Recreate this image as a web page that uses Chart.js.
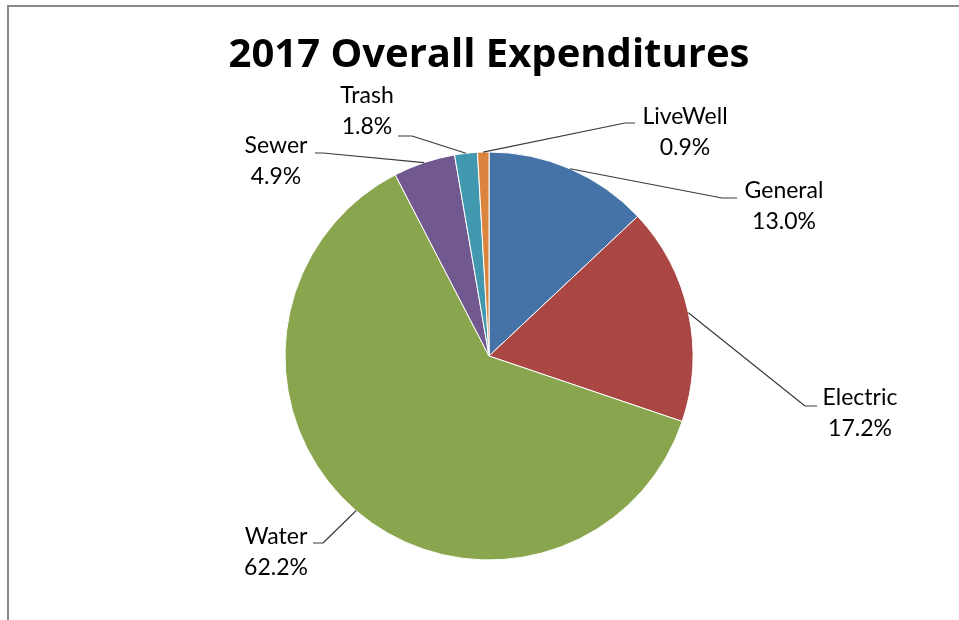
<!DOCTYPE html>
<html>
<head>
<meta charset="utf-8">
<title>2017 Overall Expenditures</title>
<script src="https://cdn.jsdelivr.net/npm/chart.js@4/dist/chart.umd.min.js"></script>
<style>
    html, body {
        margin: 0;
        padding: 0;
        background: #fff;
    }
    .wrap {
        position: relative;
        width: 959px;
        height: 620px;
        overflow: hidden;
    }
    .frame {
        position: absolute;
        left: 7px;
        top: 5px;
        width: 960px;
        height: 620px;
        border-top: 2px solid #8a8a8a;
        border-left: 2px solid #8a8a8a;
        pointer-events: none;
    }
</style>
</head>
<body>
<div class="wrap">
    <canvas id="expenseChart"></canvas>
    <div class="frame"></div>
</div>
<script>
const categories = ["General", "Electric", "Water", "Sewer", "Trash", "LiveWell"];
const shares = [13.0, 17.2, 62.2, 4.9, 1.8, 0.9];
const sliceColors = ["#4572A7", "#AA4643", "#89A54E", "#71588F", "#4198AF", "#DB843D"];

// where each callout sits, in px from the pie centre:
// text = centre of the first line, bar = short horizontal tick [x1, x2, y]
const calloutSpots = {
    General:  { text: [295, -165], bar: [233, 248, -158], side: "right" },
    Electric: { text: [371, 42],   bar: [316, 328, 50],   side: "right" },
    Water:    { text: [-213, 181], bar: [-176, -166, 187], side: "left" },
    Sewer:    { text: [-213, -210], bar: [-174, -166, -203], side: "left" },
    Trash:    { text: [-122, -260], bar: [-91, -77, -220], side: "left" },
    LiveWell: { text: [196, -239], bar: [136, 146, -233], side: "right" },
};

const LABEL_FONT = "Lato, 'Liberation Sans', sans-serif";
const TITLE_FONT = "'Open Sans', 'DejaVu Sans', sans-serif";

const callouts = {
    id: "callouts",
    afterDatasetsDraw(chart) {
        const { ctx } = chart;
        const meta = chart.getDatasetMeta(0);
        const total = shares.reduce((a, b) => a + b, 0);

        ctx.save();
        meta.data.forEach((arc, i) => {
            const spot = calloutSpots[categories[i]];
            const { x, y, startAngle, endAngle, outerRadius } = arc.getProps(
                ["x", "y", "startAngle", "endAngle", "outerRadius"],
                true,
            );
            const mid = (startAngle + endAngle) / 2;
            const ax = x + Math.cos(mid) * outerRadius;
            const ay = y + Math.sin(mid) * outerRadius;

            const [b1, b2, by] = spot.bar;
            const joinX = spot.side === "right" ? x + b1 : x + b2;

            ctx.strokeStyle = "#3a3a3a";
            ctx.lineWidth = 1.2;
            ctx.beginPath();
            ctx.moveTo(ax, ay);
            ctx.lineTo(joinX, y + by);
            ctx.moveTo(x + b1, y + by);
            ctx.lineTo(x + b2, y + by);
            ctx.stroke();

            const pct = ((shares[i] / total) * 100).toFixed(1) + "%";
            ctx.fillStyle = "#000";
            ctx.font = `23px ${LABEL_FONT}`;
            ctx.textAlign = "center";
            ctx.textBaseline = "middle";
            ctx.fillText(categories[i], x + spot.text[0], y + spot.text[1]);
            ctx.fillText(pct, x + spot.text[0], y + spot.text[1] + 31);
        });
        ctx.restore();
    },
};

new Chart(document.getElementById("expenseChart"), {
    type: "pie",
    data: {
        labels: categories,
        datasets: [
            {
                data: shares,
                backgroundColor: sliceColors,
                borderColor: "#ffffff",
                borderWidth: 1,
                radius: 204,
            },
        ],
    },
    options: {
        responsive: true,
        maintainAspectRatio: false,
        animation: false,
        layout: {
            padding: { left: 19, right: 0, top: 0, bottom: 60 },
        },
        plugins: {
            legend: { display: false },
            tooltip: { enabled: false },
            title: {
                display: true,
                text: "2017 Overall Expenditures",
                color: "#000",
                font: { family: TITLE_FONT, size: 40, weight: "bold", lineHeight: 1.2 },
                padding: { top: 32, bottom: 72 },
            },
        },
    },
    plugins: [callouts],
});
</script>
</body>
</html>
